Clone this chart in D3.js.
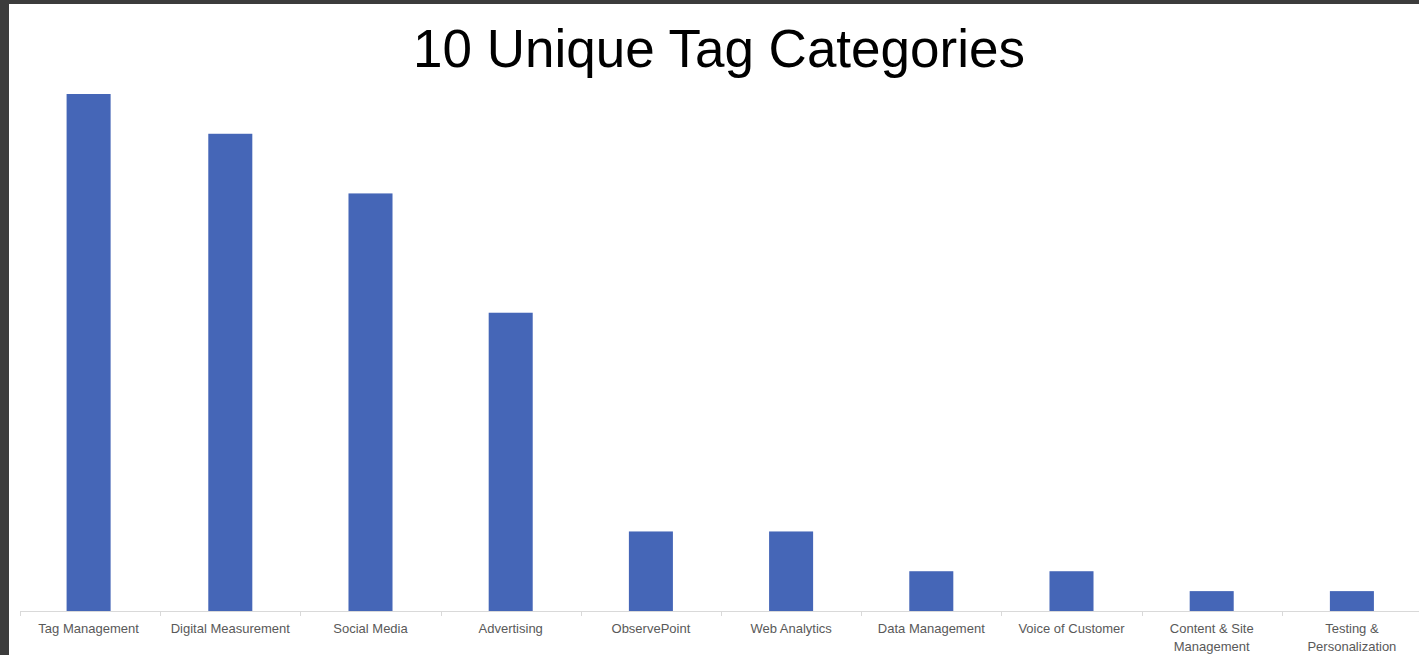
<!DOCTYPE html>
<html>
<head>
<meta charset="utf-8">
<script src="https://cdn.jsdelivr.net/npm/d3@7"></script>
<style>
  html, body { margin: 0; padding: 0; background: #3c3c3c; }
  svg { display: block; }
</style>
</head>
<body>
<svg id="chart" width="1419" height="655"></svg>
<script>
const title = "10 Unique Tag Categories";
const categories = ["Tag Management", "Digital Measurement", "Social Media", "Advertising", "ObservePoint", "Web Analytics", "Data Management", "Voice of Customer", "Content & Site Management", "Testing & Personalization"];
const values = [26, 24, 21, 15, 4, 4, 2, 2, 1, 1];
const tickLabels = [["Tag Management"], ["Digital Measurement"], ["Social Media"], ["Advertising"], ["ObservePoint"], ["Web Analytics"], ["Data Management"], ["Voice of Customer"], ["Content & Site", "Management"], ["Testing &", "Personalization"]];

const W = 1419, H = 655;
const svg = d3.select("#chart");

// white panel with dark frame on top and left
svg.append("rect").attr("x", 9).attr("y", 4).attr("width", W - 9).attr("height", H - 4).attr("fill", "#ffffff");

const left = 20, right = 1422, baseline = 611;
const x = d3.scaleBand().domain(categories).range([left, right]).paddingInner(0.686).paddingOuter(0.343);
const y = d3.scaleLinear().domain([0, 26]).range([baseline, 94]);

// title
svg.append("text")
  .attr("x", 719).attr("y", 67)
  .attr("text-anchor", "middle")
  .attr("font-family", "Liberation Sans, Arial, sans-serif")
  .attr("font-size", 53)
  .attr("fill", "#000")
  .text(title);

// bars
svg.append("g").selectAll("rect").data(values).join("rect")
  .attr("x", (d, i) => x(categories[i]) - (i === 0 ? 1.5 : 0))
  .attr("y", d => y(d))
  .attr("width", x.bandwidth())
  .attr("height", d => y(0) - y(d))
  .attr("fill", "#4566b7");

// axis line and boundary ticks
const step = x.step();
const boundaries = d3.range(categories.length + 1).map(i => left + i * step);
const axisG = svg.append("g");
axisG.append("line")
  .attr("x1", left).attr("x2", W)
  .attr("y1", baseline + 0.5).attr("y2", baseline + 0.5)
  .attr("stroke", "#d9d9d9").attr("stroke-width", 1);
axisG.selectAll("line.tick").data(boundaries).join("line")
  .attr("class", "tick")
  .attr("x1", d => Math.round(d) + 0.5).attr("x2", d => Math.round(d) + 0.5)
  .attr("y1", baseline).attr("y2", baseline + 5)
  .attr("stroke", "#d9d9d9").attr("stroke-width", 1);

// category labels
const lbl = svg.append("g").selectAll("text").data(categories).join("text")
  .attr("x", d => x(d) + x.bandwidth() / 2)
  .attr("y", 633)
  .attr("text-anchor", "middle")
  .attr("font-family", "Liberation Sans, Arial, sans-serif")
  .attr("font-size", 13)
  .attr("fill", "#595959");
lbl.each(function(d, i) {
  const t = d3.select(this);
  tickLabels[i].forEach((line, j) => {
    t.append("tspan")
      .attr("x", x(d) + x.bandwidth() / 2 - (i === 0 ? 1.5 : 0))
      .attr("dy", j === 0 ? 0 : 18)
      .text(line);
  });
});
</script>
</body>
</html>
